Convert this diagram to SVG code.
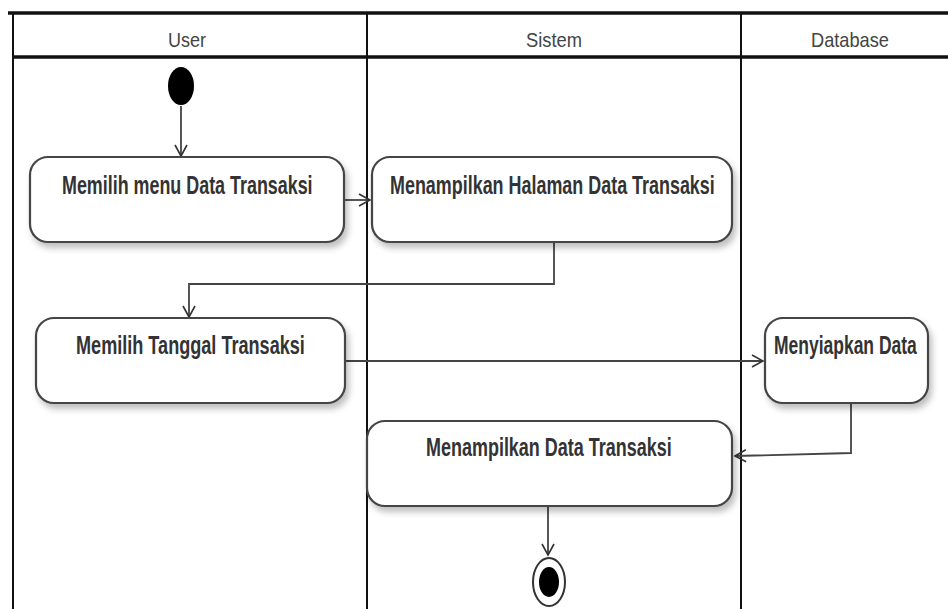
<svg xmlns="http://www.w3.org/2000/svg" width="948" height="609" viewBox="0 0 948 609">
<defs>
<filter id="sh" x="-10%" y="-10%" width="125%" height="140%">
<feDropShadow dx="3" dy="5" stdDeviation="3" flood-color="#000" flood-opacity="0.25"/>
</filter>
<marker id="arr" markerWidth="14" markerHeight="14" refX="12" refY="7" orient="auto" markerUnits="userSpaceOnUse">
<path d="M1,1 L12,7 L1,13" fill="none" stroke="#333" stroke-width="1.6"/>
</marker>
<style>
.lane{stroke:#111;stroke-width:2;fill:none}
.hdr{stroke:#111;stroke-width:3.5;fill:none}
.hl{font-family:"Liberation Sans",Arial,sans-serif;font-size:21px;fill:#444;text-anchor:middle}
.node{fill:#fff;stroke:#444;stroke-width:2.2;filter:url(#sh)}
.nt{font-family:"Liberation Sans",Arial,sans-serif;font-size:26px;font-weight:bold;fill:#333}
.con{fill:none;stroke:#444;stroke-width:1.8;marker-end:url(#arr)}
</style>
</defs>
<rect width="948" height="609" fill="#fff"/>
<g id="swimlanes">
<line class="hdr" x1="8" y1="13" x2="948" y2="13"/>
<line class="hdr" x1="13" y1="57" x2="948" y2="57"/>
<line class="lane" x1="13" y1="12" x2="13" y2="609"/>
<line class="lane" x1="367" y1="12" x2="367" y2="609"/>
<line class="lane" x1="741" y1="12" x2="741" y2="609"/>
<text class="hl" x="187" y="47" textLength="38" lengthAdjust="spacingAndGlyphs">User</text>
<text class="hl" x="554" y="47" textLength="56" lengthAdjust="spacingAndGlyphs">Sistem</text>
<text class="hl" x="850" y="47" textLength="78" lengthAdjust="spacingAndGlyphs">Database</text>
</g>
<g id="connectors">
<line class="con" x1="181" y1="106" x2="181" y2="156"/>
<line class="con" x1="344" y1="200" x2="370" y2="200"/>
<polyline class="con" points="554,242 554,284 189,284 189,317"/>
<line class="con" x1="345" y1="361" x2="763" y2="361"/>
<polyline class="con" points="851,403 851,453 735,456"/>
<line class="con" x1="548" y1="506" x2="548" y2="555"/>
</g>
<g id="start">
<ellipse cx="181" cy="86" rx="13" ry="19" fill="#000"/>
</g>
<g id="n1">
<rect class="node" x="30" y="157" width="314" height="85" rx="18"/>
<text class="nt" transform="translate(62,194) scale(0.7,1)" x="0" y="0" textLength="358" lengthAdjust="spacingAndGlyphs">Memilih menu Data Transaksi</text>
</g>
<g id="n2">
<rect class="node" x="372" y="157" width="360" height="85" rx="18"/>
<text class="nt" transform="translate(390,194) scale(0.7,1)" x="0" y="0" textLength="464" lengthAdjust="spacingAndGlyphs">Menampilkan Halaman Data Transaksi</text>
</g>
<g id="n3">
<rect class="node" x="36" y="318" width="309" height="85" rx="18"/>
<text class="nt" transform="translate(76,354) scale(0.7,1)" x="0" y="0" textLength="327" lengthAdjust="spacingAndGlyphs">Memilih Tanggal Transaksi</text>
</g>
<g id="n4">
<rect class="node" x="765" y="318" width="163" height="85" rx="18"/>
<text class="nt" transform="translate(774,354) scale(0.7,1)" x="0" y="0" textLength="204" lengthAdjust="spacingAndGlyphs">Menyiapkan Data</text>
</g>
<g id="n5">
<rect class="node" x="367" y="421" width="365" height="85" rx="18"/>
<text class="nt" transform="translate(426,456) scale(0.7,1)" x="0" y="0" textLength="351" lengthAdjust="spacingAndGlyphs">Menampilkan Data Transaksi</text>
</g>
<g id="end">
<ellipse cx="549" cy="582" rx="16" ry="24" fill="#fff" stroke="#333" stroke-width="2"/>
<ellipse cx="549" cy="582" rx="10" ry="15" fill="#000"/>
</g>
</svg>
